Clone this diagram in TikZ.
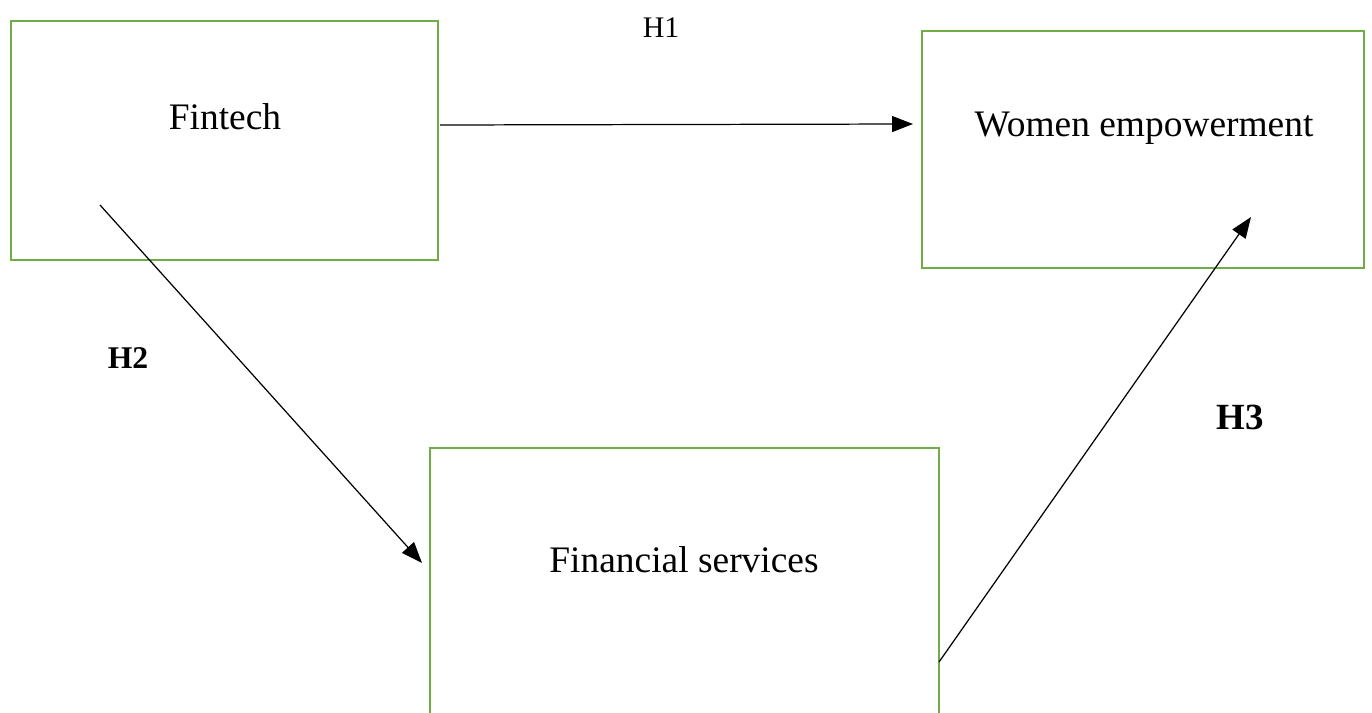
\documentclass[tikz,border=0pt]{standalone}
\usepackage{fontspec}
\setmainfont{Liberation Serif}
\usepackage{tikz}
\usetikzlibrary{arrows.meta}
\usetikzlibrary{positioning}
\definecolor{boxgreen}{HTML}{70AD47}

\begin{document}
\begin{tikzpicture}[x=0.02cm,y=-0.02cm,
  greenbox/.style={draw=boxgreen,line width=1.5pt,inner sep=0pt},
  boxtext/.style={inner sep=0pt,font=\fontsize{21.3}{25}\selectfont},
  link/.style={draw=black,line width=0.7pt,-{Triangle[length=0.42cm,width=0.32cm]}},
  hyp/.style={inner sep=0pt,font=\fontsize{17}{20}\selectfont}]
  \useasboundingbox (0,0) rectangle (1372,713);
  \clip (0,0) rectangle (1372,713);
  % boxes
  \node[greenbox,minimum width=8.54cm,minimum height=4.78cm] (fintech) at (224.5,140.5) {};
  \node[greenbox,minimum width=8.84cm,minimum height=4.74cm] (women) at (1143,149.5) {};
  \node[greenbox,minimum width=10.18cm,minimum height=7.04cm] (services) at (684.5,624) {};
  \node[boxtext] (fintechtxt) at (225,117) {Fintech};
  \node[boxtext] (womentxt) at (1144,128) {Women empowerment};
  \node[boxtext] (servicestxt) at (684,560) {Financial services};
  % arrow ends
  \coordinate (h1s) at (440,125);
  \coordinate (h1e) at (913,124);
  \coordinate (h2s) at (100,205);
  \coordinate (h2e) at (422,563);
  \coordinate (h3s) at (939,662);
  \coordinate (h3e) at (1251,217);
  \draw[link] (h1s) -- (h1e);
  \draw[link] (h2s) -- (h2e);
  \draw[link] (h3s) -- (h3e);
  % labels
  \node[hyp] (h1) at (661,28) {H1};
  \node[hyp,font=\fontsize{18}{21}\selectfont\bfseries] (h2) at (128,358) {H2};
  \node[hyp,font=\fontsize{21}{25}\selectfont\bfseries] (h3) at (1240,417) {H3};
\end{tikzpicture}
\end{document}
